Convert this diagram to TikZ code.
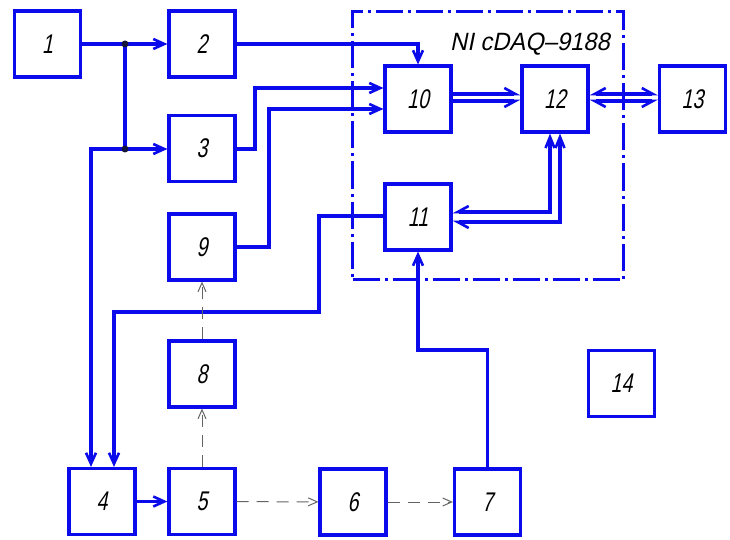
\documentclass[tikz,border=0pt]{standalone}
\usepackage{fontspec}
\setmainfont{Liberation Sans}
\newfontfamily\gostdig{Liberation Sans}[FakeSlant=0.2,FakeStretch=0.72]
\newfontfamily\gostlab{Liberation Sans}[FakeSlant=0.2,FakeStretch=0.95]
\usetikzlibrary{arrows.meta}
\definecolor{lineblue}{RGB}{10,10,235}
\definecolor{dashgray}{RGB}{100,100,100}
\definecolor{dotcol}{RGB}{20,20,60}
\begin{document}
\begin{tikzpicture}[x=1pt,y=-1pt,
  box/.style={draw=lineblue, line width=3.2pt, minimum width=66pt, minimum height=66pt,
    inner sep=0pt, font=\gostdig\fontsize{27}{30}\selectfont},
  frame/.style={draw=lineblue, line width=3.2pt, minimum width=271pt, minimum height=268pt,
    inner sep=0pt, dash pattern=on 27pt off 5pt on 3pt off 5pt},
  conn/.style={draw=lineblue, line width=3.2pt},
  tip/.style={-{Straight Barb[length=11pt,width=10pt,line width=2.6pt]}},
  htip/.style={-{Straight Barb[#1,length=11pt,width=12pt,line width=2.6pt]}},
  dsh/.style={draw=dashgray, line width=1pt, dash pattern=on 12pt off 8pt,
    -{Straight Barb[length=9pt,width=8pt,line width=1pt]}},
]
\useasboundingbox (0,0) rectangle (730,540);

% dash-dot frame and its label
\node[frame] (ni) at (488,145.5) {};
\node[font=\gostlab\fontsize{25}{25}\selectfont, anchor=base] (lab) at (530,51) {NI cDAQ–9188};

% boxes
\node[box] (b1)  at (47.5,44)   {1};
\node[box] (b2)  at (202,44)    {2};
\node[box] (b3)  at (202,148.5) {3};
\node[box] (b4)  at (102,501.5) {4};
\node[box] (b5)  at (202,501.5) {5};
\node[box] (b6)  at (353,502)   {6};
\node[box] (b7)  at (487.5,502) {7};
\node[box] (b8)  at (202,374)   {8};
\node[box] (b9)  at (202,247)   {9};
\node[box] (b10) at (418,99)    {10};
\node[box] (b11) at (418,217)   {11};
\node[box] (b12) at (555,99)    {12};
\node[box] (b13) at (692.5,99)  {13};
\node[box] (b14) at (621.5,383.5) {14};

% helper coordinates
\coordinate (J1) at (125,44);
\coordinate (J2) at (125,149);
\coordinate (c4a) at (91,149);
\coordinate (k3) at (255,88);
\coordinate (k9) at (269,109);
\coordinate (y94) at (0,94);
\coordinate (y101) at (0,101);
\coordinate (v1) at (550,212);
\coordinate (v2) at (560,222);
\coordinate (p1) at (319,216);
\coordinate (p2) at (114,312);
\coordinate (q1) at (418,350);

% solid connectors
\draw[conn,tip] (b1) -- (b2);
\draw[conn] (J1) -- (J2);
\draw[conn,tip] (J2) -- (b3.west |- J2);
\draw[conn,tip] (J2) -- (c4a) -- (c4a |- b4.north);
\draw[conn,tip] (b2.east) -| (b10.north);
\draw[conn,tip] (b3.east |- J2) -| (k3) -- (b10.west |- k3);
\draw[conn,tip] (b9.east) -| (k9) -- (b10.west |- k9);
\draw[conn,htip=left] (b10.east |- y94) -- (b12.west |- y94);
\draw[conn,htip=right] (b10.east |- y101) -- (b12.west |- y101);
\draw[conn,{Straight Barb[right,length=11pt,width=12pt,line width=2.6pt]}-{Straight Barb[left,length=11pt,width=12pt,line width=2.6pt]}] (b12.east |- y94) -- (b13.west |- y94);
\draw[conn,{Straight Barb[left,length=11pt,width=12pt,line width=2.6pt]}-{Straight Barb[right,length=11pt,width=12pt,line width=2.6pt]}] (b12.east |- y101) -- (b13.west |- y101);
\draw[conn,{Straight Barb[length=11pt,width=9pt,line width=2.6pt]}-{Straight Barb[right,length=11pt,width=12pt,line width=2.6pt]}] (b12.south -| v1) -- (v1) -- (b11.east |- v1);
\draw[conn,{Straight Barb[length=11pt,width=9pt,line width=2.6pt]}-{Straight Barb[left,length=11pt,width=12pt,line width=2.6pt]}] (b12.south -| v2) -- (v2) -- (b11.east |- v2);
\draw[conn,tip] (b11.west |- p1) -- (p1) |- (p2) -- (p2 |- b4.north);
\draw[conn,tip] (b7.north) |- (q1) -- (b11.south);
\draw[conn,tip] (b4) -- (b5);

% dashed connectors
\draw[dsh] (b5) -- (b6);
\draw[dsh] (b6) -- (b7);
\draw[dsh] (b5) -- (b8);
\draw[dsh] (b8) -- (b9);

% junction dots
\fill[dotcol] (J1) circle (3.5pt);
\fill[dotcol] (J2) circle (3.5pt);
\end{tikzpicture}
\end{document}
